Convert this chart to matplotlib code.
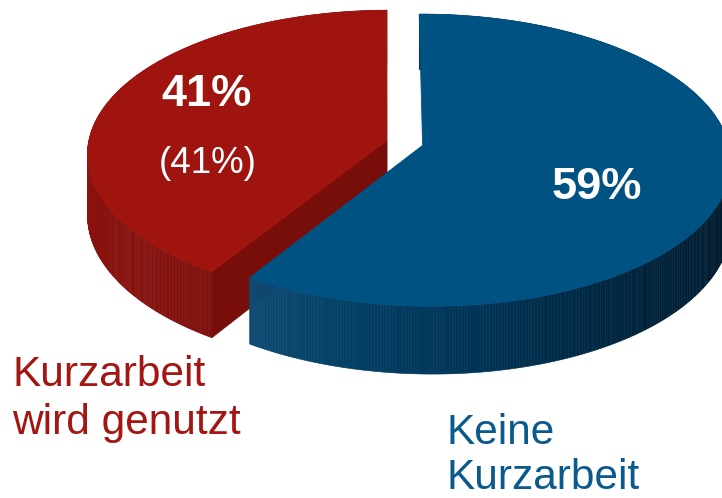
import numpy as np
import matplotlib
matplotlib.use("Agg")
import matplotlib.pyplot as plt
from matplotlib.collections import PolyCollection
from matplotlib.patches import Polygon

# Daten
labels = [["Keine", "Kurzarbeit"], ["Kurzarbeit", "wird genutzt"]]
values = [59, 41]
pct_text = ["59%", "41%"]
sub_text = [None, "(41%)"]

top_colors = ["#005283", "#A0140F"]
label_colors = ["#0B5A8E", "#A31612"]
explode = [0.0, 0.1224]

# Perspektive (Kreis-Ebene -> Pixel), am Bild ausgerichtet
H = np.array([[300.12, 22.91, 422.6],
              [-8.29, -129.52, 145.4],
              [-0.0054, 0.1017, 1.0]])
THICK = 61.0
START = 0.054  # rad, im Uhrzeigersinn ab 12 Uhr


def proj(u, v, drop=0.0):
    d = H[2, 0]*u + H[2, 1]*v + 1.0
    x = (H[0, 0]*u + H[0, 1]*v + H[0, 2]) / d
    y = (H[1, 0]*u + H[1, 1]*v + H[1, 2] + drop) / d
    return x, y


def shade(stops, ang):
    a = np.degrees(ang) % 360
    ks = np.array([s[0] for s in stops], float)
    cs = np.array([s[1] for s in stops], float) / 255.0
    return tuple(np.interp(a, ks, cs[:, i]) for i in range(3))


wall_stops = [
    [(90, (0, 24, 40)), (120, (0, 28, 48)), (150, (0, 38, 64)), (175, (0, 52, 86)),
     (195, (3, 62, 100)), (215, (14, 74, 114)), (360, (14, 74, 114))],
    [(0, (145, 18, 14)), (215, (126, 16, 12)), (240, (134, 17, 13)), (270, (141, 18, 14)),
     (300, (145, 18, 14)), (360, (145, 18, 14))],
]
cut_colors = [None, (0.47, 0.055, 0.04)]

fig = plt.figure(figsize=(7.22, 4.98), dpi=100)
ax = fig.add_axes([0, 0, 1, 1])
ax.set_xlim(0, 722)
ax.set_ylim(498, 0)
ax.axis("off")

total = float(sum(values))
spans = [2*np.pi*v/total for v in values]
starts = [START + sum(spans[:i]) for i in range(len(values))]

# roter Teil hinten zuerst, dann blau
for i in [1, 0]:
    a0, a1 = starts[i], starts[i] + spans[i]
    mid = (a0 + a1) / 2
    eu, ev = explode[i]*np.sin(mid), explode[i]*np.cos(mid)
    th = np.linspace(a0, a1, 400)
    u = eu + np.sin(th)
    v = ev + np.cos(th)
    tx, ty = proj(u, v)
    bx, by = proj(u, v, THICK)

    # Mantel in Streifen, hinten nach vorne
    polys, cols = [], []
    order = np.argsort(-np.cos(th[:-1]))
    for k in order:
        polys.append([(tx[k], ty[k]), (tx[k+1], ty[k+1]), (bx[k+1], by[k+1]), (bx[k], by[k])])
        cols.append(shade(wall_stops[i], (th[k] + th[k+1]) / 2))
    ax.add_collection(PolyCollection(polys, facecolors=cols, edgecolors=cols, linewidths=0.4))

    # Schnittflaeche (nur rot sichtbar)
    if cut_colors[i] is not None:
        cx0, cy0 = proj(eu, ev)
        cx1, cy1 = proj(eu, ev, THICK)
        ax.add_patch(Polygon([(cx0, cy0), (tx[0], ty[0]), (bx[0], by[0]), (cx1, cy1)],
                             closed=True, facecolor=cut_colors[i], edgecolor=cut_colors[i], lw=0.6))

    # Deckel
    cx0, cy0 = proj(eu, ev)
    top = np.column_stack([np.r_[cx0, tx], np.r_[cy0, ty]])
    ax.add_patch(Polygon(top, closed=True, facecolor=top_colors[i], edgecolor=top_colors[i], lw=0.6))

fam = ["Liberation Sans", "DejaVu Sans"]

ax.text(597, 187, pct_text[0], color="white", fontsize=32.5, fontweight="bold",
        family=fam, ha="center", va="center")
ax.text(207, 94, pct_text[1], color="white", fontsize=32.5, fontweight="bold",
        family=fam, ha="center", va="center")
ax.text(208, 163, sub_text[1], color="white", fontsize=26.5,
        family=fam, ha="center", va="center")

ax.text(12, 386, labels[1][0], color=label_colors[1], fontsize=30.5, family=fam, va="baseline")
ax.text(12, 434, labels[1][1], color=label_colors[1], fontsize=30.5, family=fam, va="baseline")
ax.text(447, 444, labels[0][0], color=label_colors[0], fontsize=30.5, family=fam, va="baseline")
ax.text(447, 489, labels[0][1], color=label_colors[0], fontsize=30.5, family=fam, va="baseline")

fig.savefig("out.png", dpi=100)
